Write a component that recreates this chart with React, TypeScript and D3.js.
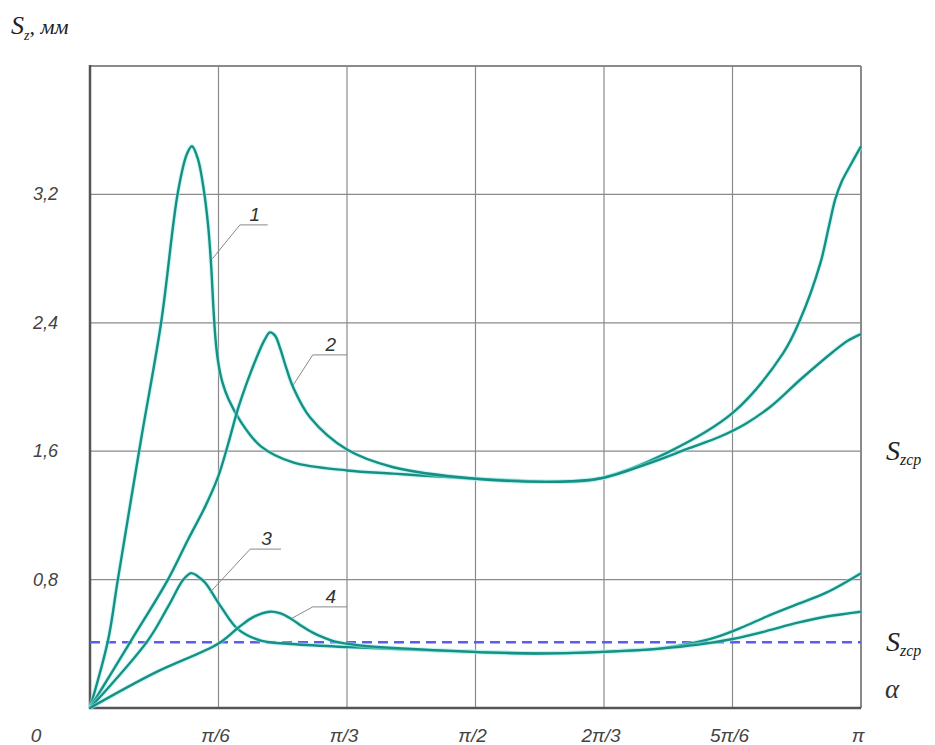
import React from "react";
import * as d3 from "d3";

// α in degrees (0..180 = 0..π), S_z in mm
const curve1Alpha = [0, 4.2, 6.5, 11.9, 16.6, 20.5, 22.6, 23.8, 25.2, 26.5, 27.6, 28.3, 28.8, 29.3, 29.9, 30.9, 32.4, 35.3, 39.9, 47.4, 60, 70.8, 89.4, 109.7, 119, 134.7, 150.1, 161.8, 165.8, 170.5, 172.5, 174, 175.5, 177.5, 180];
const curve1Value = [0, 0.42, 0.8, 1.67, 2.4, 3.21, 3.45, 3.5, 3.42, 3.24, 3.0, 2.75, 2.5, 2.3, 2.16, 2.03, 1.92, 1.78, 1.63, 1.53, 1.48, 1.46, 1.43, 1.41, 1.43, 1.59, 1.84, 2.21, 2.42, 2.77, 3.0, 3.17, 3.28, 3.38, 3.5];

const curve2Alpha = [0, 9.6, 18.2, 22.9, 26.8, 29.9, 32.2, 34.5, 36.8, 39.0, 40.7, 42, 43.2, 44.4, 45.8, 47.4, 51.4, 60, 70.8, 89.4, 109.7, 119, 130, 140, 147, 153, 159, 166, 173.5, 177, 180];
const curve2Value = [0, 0.42, 0.8, 1.05, 1.25, 1.44, 1.64, 1.86, 2.04, 2.19, 2.29, 2.34, 2.32, 2.24, 2.12, 2.0, 1.81, 1.61, 1.5, 1.43, 1.41, 1.43, 1.52, 1.62, 1.69, 1.77, 1.88, 2.05, 2.22, 2.29, 2.33];

const curve3Alpha = [0, 13.5, 18.2, 21.8, 23.6, 25.2, 26.9, 30.6, 34.6, 39.9, 46.2, 60, 89.4, 104, 119.8, 133, 140, 146, 152, 158, 165, 172, 180];
const curve3Value = [0, 0.42, 0.63, 0.8, 0.84, 0.82, 0.78, 0.63, 0.49, 0.42, 0.4, 0.38, 0.35, 0.34, 0.35, 0.37, 0.4, 0.44, 0.5, 0.57, 0.645, 0.72, 0.84];

const curve4Alpha = [0, 15.2, 29.9, 34.6, 38.0, 42, 44.5, 47.0, 49.5, 52.0, 54.5, 57.0, 63, 89.4, 104, 119.8, 133, 142, 150, 158, 165, 172, 180];
const curve4Value = [0, 0.22, 0.4, 0.5, 0.565, 0.6, 0.59, 0.555, 0.51, 0.47, 0.44, 0.415, 0.39, 0.35, 0.34, 0.35, 0.37, 0.395, 0.43, 0.48, 0.53, 0.57, 0.6];

const meanValue = 0.41;

const xTickValues = [0, 30, 60, 90, 120, 150, 180];
const xTickLabels = ["0", "π/6", "π/3", "π/2", "2π/3", "5π/6", "π"];
const yTickValues = [0.8, 1.6, 2.4, 3.2];
const yTickLabels = ["0,8", "1,6", "2,4", "3,2"];

const curveNames = ["1", "2", "3", "4"];

export default function App() {
  const W = 935, H = 745;
  const x = d3.scaleLinear().domain([0, 180]).range([90, 861]);
  const y = d3.scaleLinear().domain([0, 4]).range([708, 66]);
  const line = d3
    .line<[number, number]>()
    .x((d) => x(d[0]))
    .y((d) => y(d[1]))
    .curve(d3.curveCatmullRom.alpha(0.5));

  const series = [
    d3.zip(curve1Alpha, curve1Value),
    d3.zip(curve2Alpha, curve2Value),
    d3.zip(curve3Alpha, curve3Value),
    d3.zip(curve4Alpha, curve4Value),
  ] as [number, number][][];

  // leader anchors: [alpha on curve, value on curve, elbow alpha, elbow value, end alpha]
  const leaders: [number, number, number, number, number][] = [
    [28.6, 2.8, 35.0, 3.01, 41.5],
    [47.4, 2.01, 52.0, 2.2, 60.0],
    [28.0, 0.72, 37.4, 0.99, 44.6],
    [47.2, 0.56, 52.0, 0.63, 60.0],
  ];

  const tickFont = "'Liberation Sans', 'DejaVu Sans', sans-serif";
  const serif = "'Liberation Serif', 'DejaVu Serif', serif";

  return (
    <svg width={W} height={H} style={{ position: "absolute", left: 0, top: 0, background: "#fff" }}>
      {/* grid */}
      {yTickValues.map((v) => (
        <line key={"h" + v} x1={x(0)} x2={x(180)} y1={y(v)} y2={y(v)} stroke="#8a8a8a" strokeWidth={1.2} />
      ))}
      {xTickValues.slice(1).map((v) => (
        <line key={"v" + v} x1={x(v)} x2={x(v)} y1={y(0)} y2={y(4)} stroke="#8a8a8a" strokeWidth={1.2} />
      ))}
      <line x1={x(0)} x2={x(180)} y1={y(4)} y2={y(4)} stroke="#8a8a8a" strokeWidth={2} />
      <line x1={x(180)} x2={x(180)} y1={y(0)} y2={y(4)} stroke="#8a8a8a" strokeWidth={2} />
      {/* axes */}
      <line x1={x(0)} x2={x(0)} y1={y(0) + 1} y2={y(4) - 1} stroke="#555" strokeWidth={2.5} />
      <line x1={x(0) - 1} x2={x(180)} y1={y(0)} y2={y(0)} stroke="#555" strokeWidth={2.5} />

      {/* mean dashed line */}
      <line x1={x(0)} x2={x(180)} y1={y(meanValue)} y2={y(meanValue)} stroke="#5b5bef" strokeWidth={2.5} strokeDasharray="10 6" />

      {/* curves */}
      {series.map((s, i) => (
        <g key={"c" + i}>
          <path d={line(s) || ""} fill="none" stroke="#9ff0ea" strokeWidth={4.5} strokeOpacity={0.5} />
          <path d={line(s) || ""} fill="none" stroke="#168f84" strokeWidth={2.4} />
        </g>
      ))}

      {/* leaders */}
      {leaders.map((l, i) => (
        <g key={"l" + i}>
          <polyline
            points={`${x(l[0])},${y(l[1])} ${x(l[2])},${y(l[3])} ${x(l[4])},${y(l[3])}`}
            fill="none"
            stroke="#888"
            strokeWidth={1}
          />
          <text
            x={(x(l[2]) + x(l[4])) / 2 + 1}
            y={y(l[3]) - 4}
            textAnchor="middle"
            fontFamily={tickFont}
            fontStyle="italic"
            fontSize={19}
            fill="#333"
          >
            {curveNames[i]}
          </text>
        </g>
      ))}

      {/* y tick labels */}
      {yTickValues.map((v, i) => (
        <text key={"yt" + v} x={58} y={y(v) + 6} textAnchor="end" fontFamily={tickFont} fontStyle="italic" fontSize={18} fill="#444">
          {yTickLabels[i]}
        </text>
      ))}
      {/* x tick labels */}
      {xTickValues.map((v, i) => (
        <text
          key={"xt" + v}
          x={i === 0 ? 36 : x(v) - 3}
          y={742}
          textAnchor="middle"
          fontFamily={tickFont}
          fontStyle="italic"
          fontSize={19}
          fill="#444"
        >
          {xTickLabels[i]}
        </text>
      ))}

      {/* axis titles */}
      <text x={11} y={34} fontFamily={serif} fontStyle="italic" fontSize={26} fill="#222">
        S<tspan fontSize={14} dy={6}>z</tspan>
        <tspan dy={-6} fontSize={22}>, мм</tspan>
      </text>
      <text x={885} y={698} fontFamily={serif} fontStyle="italic" fontSize={27} fill="#333">
        α
      </text>

      {/* S_zcp labels */}
      {[1.6, meanValue].map((v, i) => (
        <text key={"sz" + i} x={886} y={y(v) + 9} fontFamily={serif} fontStyle="italic" fontSize={28} fill="#222">
          S<tspan fontSize={16} dy={5}>zcp</tspan>
        </text>
      ))}
    </svg>
  );
}
